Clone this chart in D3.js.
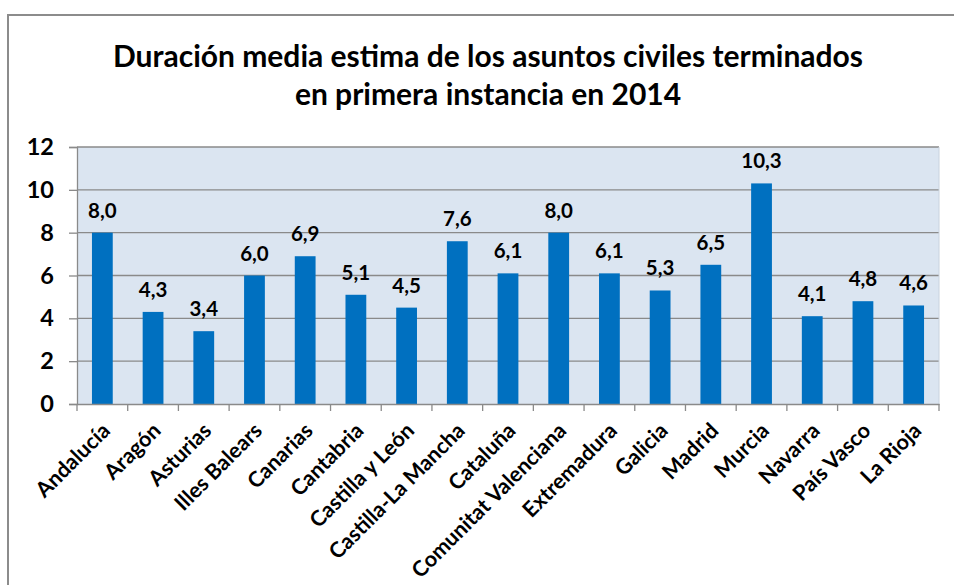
<!DOCTYPE html>
<html><head><meta charset="utf-8">
<script src="https://cdn.jsdelivr.net/npm/d3@7"></script>
<style>body{margin:0;background:#fff}svg{display:block}text{font-family:Lato,"Open Sans",sans-serif;font-weight:bold;fill:#000}</style>
</head><body><svg id="c" width="954" height="585"></svg>
<script>
const categories = ["Andalucía","Aragón","Asturias","Illes Balears","Canarias","Cantabria","Castilla y León","Castilla-La Mancha","Cataluña","Comunitat Valenciana","Extremadura","Galicia","Madrid","Murcia","Navarra","País Vasco","La Rioja"];
const values = [8.0,4.3,3.4,6.0,6.9,5.1,4.5,7.6,6.1,8.0,6.1,5.3,6.5,10.3,4.1,4.8,4.6];
const yTicks = [0,2,4,6,8,10,12];
const titleLines = ["Duración media estima de los asuntos civiles terminados","en primera instancia en 2014"];

const svg = d3.select("#c");
const m = {left:77, right:939, top:147, bottom:404};

svg.append("rect").attr("x",8).attr("y",15).attr("width",960).attr("height",600)
  .attr("fill","#fff").attr("stroke","#8c8c8c").attr("stroke-width",2);

const x = d3.scaleBand().domain(categories).range([m.left,m.right]).paddingInner(0.59).paddingOuter(0.295);
const xb = d3.scaleBand().domain(categories).range([m.left,m.right]);
const y = d3.scaleLinear().domain([0,12]).range([m.bottom,m.top]);

svg.append("rect").attr("x",m.left).attr("y",m.top).attr("width",m.right-m.left).attr("height",m.bottom-m.top).attr("fill","#dbe5f1");

svg.append("g").selectAll("line").data(yTicks.filter(d=>d>0)).join("line")
  .attr("x1",m.left).attr("x2",m.right).attr("y1",d=>y(d)).attr("y2",d=>y(d))
  .attr("stroke","#8a8a8a").attr("stroke-width",1.3);
svg.append("line").attr("x1",m.right).attr("x2",m.right).attr("y1",m.top).attr("y2",m.bottom).attr("stroke","#c8d2de");

svg.append("g").selectAll("rect").data(values).join("rect")
  .attr("x",(d,i)=>x(categories[i])).attr("width",x.bandwidth())
  .attr("y",d=>y(d)).attr("height",d=>y(0)-y(d)).attr("fill","#0070c0");

const fmt = d=>d3.format(".1f")(d).replace(".",",");
svg.append("g").selectAll("text").data(values).join("text")
  .attr("x",(d,i)=>x(categories[i])+x.bandwidth()/2).attr("y",d=>y(d)-15)
  .attr("text-anchor","middle").attr("font-size",20.5).text(fmt);

// y axis
const ya = svg.append("g").attr("transform",`translate(${m.left},0)`)
  .call(d3.axisLeft(y).tickValues(yTicks).tickSize(8).tickPadding(15).tickFormat(d3.format("d")));
ya.select(".domain").attr("stroke","#8a8a8a").attr("stroke-width",1.3);
ya.selectAll(".tick line").attr("stroke","#8a8a8a").attr("stroke-width",1.3);
ya.selectAll("text").attr("font-size",23.5).attr("font-family","Lato,sans-serif").attr("font-weight","bold").attr("fill","#000");

// x axis
const xa = svg.append("g").attr("transform",`translate(0,${m.bottom})`)
  .call(d3.axisBottom(xb).tickSize(0).tickFormat(""));
xa.select(".domain").attr("stroke","#8a8a8a").attr("stroke-width",1.3);
const edges = categories.map(c=>xb(c)).concat([m.right]);
xa.selectAll(".edge").data(edges).join("line").attr("class","edge")
  .attr("x1",d=>d).attr("x2",d=>d).attr("y1",0).attr("y2",7).attr("stroke","#8a8a8a").attr("stroke-width",1.3);
xa.selectAll(".lab").data(categories).join("text").attr("class","lab")
  .attr("transform",d=>`translate(${xb(d)+xb.bandwidth()/2+9},${28}) rotate(-45)`)
  .attr("text-anchor","end").attr("font-size",21.5).text(d=>d);

svg.append("g").selectAll("text").data(titleLines).join("text")
  .attr("x",488).attr("y",(d,i)=>67+i*38).attr("text-anchor","middle").attr("font-size",30).text(d=>d);
</script></body></html>
